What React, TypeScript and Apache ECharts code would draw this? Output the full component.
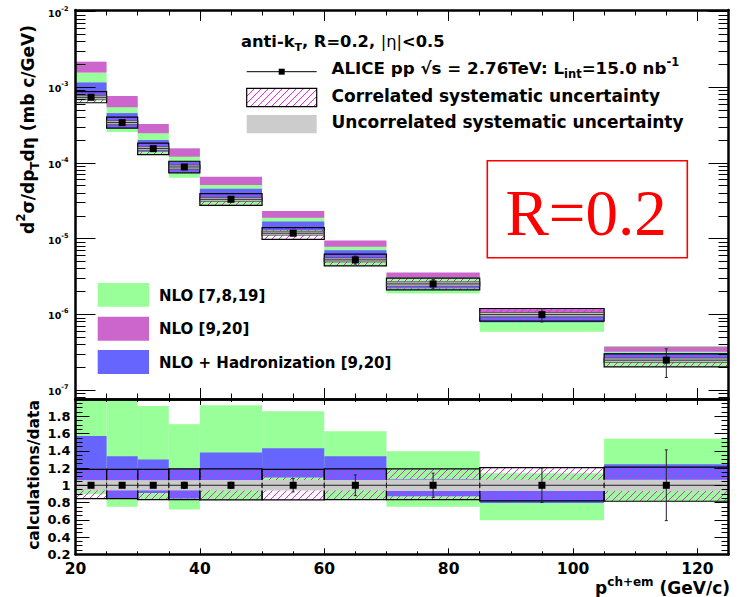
import React, { useEffect, useRef } from "react";
import * as echarts from "echarts";

// ---------------- data ----------------
const binLow = [20, 25, 30, 35, 40, 50, 60, 70, 85, 105];
const binHigh = [25, 30, 35, 40, 50, 60, 70, 85, 105, 125];
const binCenter = [22.5, 27.5, 32.5, 37.5, 45, 55, 65, 77.5, 95, 115];
// ALICE data, d2sigma/dpTdeta (mb c/GeV)
const crossSection = [7.38e-4, 3.41e-4, 1.545e-4, 8.85e-5, 3.31e-5, 1.18e-5, 5.24e-6, 2.52e-6, 9.9e-7, 2.48e-7];
const statErrRel = [0.02, 0.02, 0.02, 0.035, 0.035, 0.077, 0.12, 0.14, 0.2, 0.41];
// correlated systematic box (relative to data)
const corrSysLow = [0.846, 0.846, 0.834, 0.834, 0.83, 0.83, 0.834, 0.834, 0.82, 0.815];
const corrSysHigh = [1.185, 1.185, 1.185, 1.19, 1.19, 1.185, 1.19, 1.19, 1.205, 1.21];
// uncorrelated systematic band (relative half-width)
const uncorrSysRel = [0.06, 0.06, 0.06, 0.06, 0.06, 0.06, 0.06, 0.065, 0.065, 0.065];
// NLO [7,8,19] calculations/data band
const nloRatioLow = [0.896, 0.75, 0.83, 0.72, 0.83, 1.02, 0.83, 0.75, 0.594, 0.815];
const nloRatioHigh = [2.1, 2.05, 1.92, 1.707, 1.927, 1.857, 1.626, 1.394, 1.14, 1.54];
// NLO + Hadronization [9,20] calculations/data band
const nloHadRatioLow = [0.97, 0.846, 0.91, 0.846, 0.98, 1.09, 0.98, 0.873, 0.795, 1.0];
const nloHadRatioHigh = [1.57, 1.336, 1.3, 1.19, 1.38, 1.43, 1.336, 1.07, 0.97, 1.243];
// NLO [9,20] cross section band (mb c/GeV)
const nlo920Low = [1.56e-3, 5.45e-4, 2.47e-4, 1.21e-4, 5.12e-5, 1.89e-5, 7.84e-6, 3.05e-6, 1.05e-6, 3.21e-7];
const nlo920High = [2.18e-3, 7.67e-4, 3.27e-4, 1.56e-4, 6.59e-5, 2.32e-5, 9.42e-6, 3.56e-6, 1.2e-6, 3.74e-7];

// tick values
const xMajorTicks = [20, 40, 60, 80, 100, 120];
const xMinorTicks = [25, 30, 35, 45, 50, 55, 65, 70, 75, 85, 90, 95, 105, 110, 115];
const logMajorTicks = [-7, -6, -5, -4, -3, -2];
const ratioMajorTicks = [0.2, 0.4, 0.6, 0.8, 1.0, 1.2, 1.4, 1.6, 1.8];

// ---------------- styles ----------------
const FONT = "DejaVu Sans";
const GREEN = "#99ff99";
const MAGENTA = "#cc66cc";
const BLUE = "#6666ff";
const GRAY = "#cccccc";
const HATCH = "#ee22ee";
const RED = "#ff0000";
const Y_LOG_MIN = -7.119;
const Y_LOG_MAX = -1.979;

const logMinorTicks: number[] = [];
for (let n = -8; n <= -2; n++) {
  for (let k = 2; k <= 9; k++) {
    const v = n + Math.log10(k);
    if (v > Y_LOG_MIN && v < Y_LOG_MAX) logMinorTicks.push(v);
  }
}
const ratioMinorTicks: number[] = [];
for (let i = 5; i < 40; i++) {
  if (i % 4 !== 0) ratioMinorTicks.push(Math.round(i * 5) / 100);
}

const hatchLines = (x0: number, y0: number, x1: number, y1: number, step = 7) => {
  const out: any[] = [];
  const cStart = Math.ceil((x0 + y0) / step) * step;
  for (let c = cStart; c <= x1 + y1; c += step) {
    const xa = Math.max(x0, c - y1);
    const xb = Math.min(x1, c - y0);
    if (xb - xa > 0.4) {
      out.push({
        type: "line",
        silent: true,
        shape: { x1: xa, y1: c - xa, x2: xb, y2: c - xb },
        style: { stroke: HATCH, lineWidth: 1 },
      });
    }
  }
  return out;
};

const bandRender = (fill: string, stroke?: string) => (params: any, api: any) => {
  const a = api.coord([api.value(0), api.value(3)]);
  const b = api.coord([api.value(1), api.value(2)]);
  const cs = params.coordSys;
  const shape = echarts.graphic.clipRectByRect(
    { x: a[0], y: a[1], width: b[0] - a[0], height: b[1] - a[1] },
    { x: cs.x, y: cs.y, width: cs.width, height: cs.height }
  );
  if (!shape) return null;
  return {
    type: "rect",
    silent: true,
    shape,
    style: stroke ? { fill, stroke, lineWidth: 0.8 } : { fill },
  };
};

const hatchRender = (params: any, api: any) => {
  const a = api.coord([api.value(0), api.value(3)]);
  const b = api.coord([api.value(1), api.value(2)]);
  const children = hatchLines(a[0], a[1], b[0], b[1]);
  children.push({
    type: "rect",
    silent: true,
    shape: { x: a[0], y: a[1], width: b[0] - a[0], height: b[1] - a[1] },
    style: { fill: "none", stroke: "#000", lineWidth: 1.2 },
  });
  return { type: "group", children };
};

const pointRender = (params: any, api: any) => {
  const x0 = api.value(0), x1 = api.value(1), xc = api.value(2);
  const y = api.value(3), ylo = api.value(4), yhi = api.value(5);
  const pL = api.coord([x0, y]);
  const pR = api.coord([x1, y]);
  const pC = api.coord([xc, y]);
  const pLo = api.coord([xc, ylo]);
  const pHi = api.coord([xc, yhi]);
  const st = { stroke: "#222", lineWidth: 1 };
  const m = 7;
  return {
    type: "group",
    children: [
      { type: "line", silent: true, shape: { x1: pL[0], y1: pL[1], x2: pR[0], y2: pR[1] }, style: st },
      { type: "line", silent: true, shape: { x1: pL[0], y1: pL[1] - 2.5, x2: pL[0], y2: pL[1] + 2.5 }, style: st },
      { type: "line", silent: true, shape: { x1: pR[0], y1: pR[1] - 2.5, x2: pR[0], y2: pR[1] + 2.5 }, style: st },
      { type: "line", silent: true, shape: { x1: pLo[0], y1: pLo[1], x2: pHi[0], y2: pHi[1] }, style: st },
      { type: "line", silent: true, shape: { x1: pLo[0] - 1.5, y1: pLo[1], x2: pLo[0] + 1.5, y2: pLo[1] }, style: st },
      { type: "line", silent: true, shape: { x1: pHi[0] - 1.5, y1: pHi[1], x2: pHi[0] + 1.5, y2: pHi[1] }, style: st },
      { type: "rect", silent: true, shape: { x: pC[0] - m / 2, y: pC[1] - m / 2, width: m, height: m }, style: { fill: "#000" } },
    ],
  };
};

const FRAME = { color: "#000", width: 2.5 };
const TICK = { color: "#000", width: 1 };

function xAx(grid: number, pos: string, ticks: number[], len: number, line: boolean, labels?: number[]) {
  return {
    type: "value",
    gridIndex: grid,
    position: pos,
    min: 20,
    max: 125,
    z: 10,
    axisLine: { show: line, onZero: false, lineStyle: FRAME },
    axisTick: { show: true, inside: true, length: len, customValues: ticks, lineStyle: TICK },
    axisLabel: labels
      ? {
          show: true,
          customValues: labels,
          margin: 7,
          fontFamily: FONT,
          fontWeight: "bold",
          fontSize: 15.5,
          color: "#000",
        }
      : { show: false },
    splitLine: { show: false },
  };
}

function yAx(grid: number, pos: string, min: number, max: number, ticks: number[], len: number, line: boolean, label?: any) {
  return {
    type: "value",
    gridIndex: grid,
    position: pos,
    min,
    max,
    z: 10,
    axisLine: { show: line, onZero: false, lineStyle: FRAME },
    axisTick: { show: true, inside: true, length: len, customValues: ticks, lineStyle: TICK },
    axisLabel: label ? label : { show: false },
    splitLine: { show: false },
  };
}

const log10 = (v: number) => Math.log10(v);

function buildOption() {
  const topBand = (lo: number[], hi: number[], rel: boolean) =>
    binLow.map((b, i) => [
      b,
      binHigh[i],
      log10(rel ? lo[i] * crossSection[i] : lo[i]),
      log10(rel ? hi[i] * crossSection[i] : hi[i]),
    ]);
  const ratioBand = (lo: number[], hi: number[]) => binLow.map((b, i) => [b, binHigh[i], lo[i], hi[i]]);

  const topGreen = topBand(nloRatioLow, nloRatioHigh, true);
  const topMagenta = topBand(nlo920Low, nlo920High, false);
  const topBlue = topBand(nloHadRatioLow, nloHadRatioHigh, true);
  const topCorr = topBand(corrSysLow, corrSysHigh, true);
  const topUncorr = topBand(
    uncorrSysRel.map((u) => 1 - u),
    uncorrSysRel.map((u) => 1 + u),
    true
  );
  const topPoints = binLow.map((b, i) => [
    b,
    binHigh[i],
    binCenter[i],
    log10(crossSection[i]),
    log10(crossSection[i] * (1 - statErrRel[i])),
    log10(crossSection[i] * (1 + statErrRel[i])),
  ]);

  const rGreen = ratioBand(nloRatioLow, nloRatioHigh);
  const rBlue = ratioBand(nloHadRatioLow, nloHadRatioHigh);
  const rCorr = ratioBand(corrSysLow, corrSysHigh);
  const rUncorr = ratioBand(
    uncorrSysRel.map((u) => 1 - u),
    uncorrSysRel.map((u) => 1 + u)
  );
  const rPoints = binLow.map((b, i) => [b, binHigh[i], binCenter[i], 1, 1 - statErrRel[i], 1 + statErrRel[i]]);

  const cust = (name: string, xi: number, yi: number, data: any[], render: any, z: number) => ({
    type: "custom",
    name,
    xAxisIndex: xi,
    yAxisIndex: yi,
    data,
    renderItem: render,
    silent: true,
    z,
  });

  const supRich = {
    b: { fontFamily: FONT, fontWeight: "bold", fontSize: 9.5, color: "#000", lineHeight: 13, verticalAlign: "bottom" },
    s: { fontFamily: FONT, fontWeight: "bold", fontSize: 6.5, color: "#000", lineHeight: 13, verticalAlign: "top" },
  };

  const txt = (x: number, y: number, text: string, size: number, extra: any = {}) => ({
    type: "text",
    x,
    y,
    silent: true,
    z: 20,
    ...extra,
    style: {
      text,
      fontFamily: FONT,
      fontWeight: "bold",
      fontSize: size,
      fill: "#000",
      align: "left",
      verticalAlign: "middle",
      ...(extra.style || {}),
    },
  });

  const richFor = (size: number, small: number, lh: number) => ({
    n: { fontFamily: FONT, fontWeight: "bold", fontSize: size, lineHeight: lh, verticalAlign: "middle" },
    sup: { fontFamily: FONT, fontWeight: "bold", fontSize: small, lineHeight: lh, verticalAlign: "top" },
    sub: { fontFamily: FONT, fontWeight: "bold", fontSize: small, lineHeight: lh, verticalAlign: "bottom" },
    th: { fontFamily: FONT, fontWeight: "normal", fontSize: size, lineHeight: lh, verticalAlign: "middle" },
  });

  const legBoxX = 246.7;
  const legBoxW = 70;

  const graphic: any[] = [
    // y titles
    txt(28, 234, "{n|d}{sup|2}{n|σ/dp}{sub|T}{n|dη (mb c/GeV)}", 17, {
      rotation: Math.PI / 2,
      style: { align: "left", rich: richFor(17, 12, 26) },
    }),
    txt(33.5, 475, "calculations/data", 15.5, { rotation: Math.PI / 2, style: { align: "center" } }),
    // x title
    txt(730, 588, "{n|p}{sup|ch+em}{n| (GeV/c)}", 17, { style: { align: "right", rich: richFor(17, 12, 24) } }),
    // top-right legend
    txt(241, 41.5, "{n|anti-k}{sub|T}{n|, R=0.2, }{th||η|}{n|<0.5}", 16.3, { style: { rich: richFor(16.3, 11, 22) } }),
    {
      type: "line",
      silent: true,
      z: 20,
      shape: { x1: legBoxX, y1: 71.7, x2: legBoxX + legBoxW, y2: 71.7 },
      style: { stroke: "#000", lineWidth: 1 },
    },
    {
      type: "rect",
      silent: true,
      z: 20,
      shape: { x: legBoxX + legBoxW / 2 - 3, y: 71.7 - 3, width: 6, height: 6 },
      style: { fill: "#000" },
    },
    txt(331.5, 68.3, "{n|ALICE pp √s = 2.76TeV: L}{sub|int}{n|=15.0 nb}{sup|-1}", 16.7, {
      style: { rich: richFor(16.7, 11.5, 24) },
    }),
    {
      type: "group",
      z: 20,
      silent: true,
      children: [
        ...hatchLines(legBoxX, 88.3, legBoxX + legBoxW, 106.7),
        {
          type: "rect",
          silent: true,
          shape: { x: legBoxX, y: 88.3, width: legBoxW, height: 18.4 },
          style: { fill: "none", stroke: "#000", lineWidth: 1.2 },
        },
      ],
    },
    txt(331.5, 96.3, "Correlated systematic uncertainty", 17),
    {
      type: "rect",
      silent: true,
      z: 20,
      shape: { x: legBoxX, y: 115, width: legBoxW, height: 18.3 },
      style: { fill: GRAY },
    },
    txt(331.5, 122.2, "Uncorrelated systematic uncertainty", 17),
    // R=0.2 box
    {
      type: "rect",
      silent: true,
      z: 20,
      shape: { x: 487.3, y: 160.7, width: 200, height: 97 },
      style: { fill: "#fff", stroke: RED, lineWidth: 1.6 },
    },
    {
      type: "text",
      silent: true,
      z: 21,
      x: 586,
      y: 213,
      style: {
        text: "R=0.2",
        fontFamily: "Liberation Serif",
        fontSize: 65,
        fill: RED,
        align: "center",
        verticalAlign: "middle",
      },
    },
    // lower-left legend
    { type: "rect", silent: true, z: 20, shape: { x: 97.7, y: 283, width: 51.3, height: 23.7 }, style: { fill: GREEN } },
    txt(159, 296, "NLO [7,8,19]", 15),
    { type: "rect", silent: true, z: 20, shape: { x: 97.7, y: 316.7, width: 51.3, height: 24 }, style: { fill: MAGENTA } },
    txt(159, 329, "NLO [9,20]", 15),
    { type: "rect", silent: true, z: 20, shape: { x: 97.7, y: 350, width: 51.3, height: 24 }, style: { fill: BLUE } },
    txt(159, 362.5, "NLO + Hadronization [9,20]", 15),
  ];

  return {
    animation: false,
    backgroundColor: "#fff",
    grid: [
      { left: 75.5, top: 10, width: 653, height: 389, containLabel: false, outerBoundsMode: "none" },
      { left: 75.5, top: 399, width: 653, height: 155.3, containLabel: false, outerBoundsMode: "none" },
    ],
    xAxis: [
      xAx(0, "bottom", xMajorTicks, 11, true),
      xAx(0, "bottom", xMinorTicks, 5.5, false),
      xAx(0, "top", xMajorTicks, 11, true),
      xAx(0, "top", xMinorTicks, 5.5, false),
      xAx(1, "bottom", xMajorTicks, 6, true, xMajorTicks),
      xAx(1, "bottom", xMinorTicks, 3, false),
      xAx(1, "top", xMajorTicks, 6, true),
      xAx(1, "top", xMinorTicks, 3, false),
    ],
    yAxis: [
      yAx(0, "left", Y_LOG_MIN, Y_LOG_MAX, logMajorTicks, 20, true, {
        show: true,
        customValues: logMajorTicks,
        margin: 7,
        formatter: (v: number) => `{b|10}{s|${Math.round(v)}}`,
        rich: supRich,
      }),
      yAx(0, "left", Y_LOG_MIN, Y_LOG_MAX, logMinorTicks, 10, false),
      yAx(0, "right", Y_LOG_MIN, Y_LOG_MAX, logMajorTicks, 20, true),
      yAx(0, "right", Y_LOG_MIN, Y_LOG_MAX, logMinorTicks, 10, false),
      yAx(1, "left", 0.2, 2.0, ratioMajorTicks, 14, true, {
        show: true,
        customValues: ratioMajorTicks,
        margin: 5,
        fontFamily: FONT,
        fontWeight: "bold",
        fontSize: 13,
        color: "#000",
        formatter: (v: number) => (Math.abs(v - 1) < 1e-6 ? "1" : v.toFixed(1)),
      }),
      yAx(1, "left", 0.2, 2.0, ratioMinorTicks, 7, false),
      yAx(1, "right", 0.2, 2.0, ratioMajorTicks, 14, true),
      yAx(1, "right", 0.2, 2.0, ratioMinorTicks, 7, false),
    ],
    series: [
      cust("NLO [7,8,19]", 0, 0, topGreen, bandRender(GREEN), 2),
      cust("NLO [9,20]", 0, 0, topMagenta, bandRender(MAGENTA), 3),
      cust("NLO + Hadronization [9,20]", 0, 0, topBlue, bandRender(BLUE), 4),
      cust("Correlated systematic uncertainty", 0, 0, topCorr, hatchRender, 5),
      cust("Uncorrelated systematic uncertainty", 0, 0, topUncorr, bandRender(GRAY, "#444"), 6),
      cust("ALICE pp", 0, 0, topPoints, pointRender, 7),
      cust("NLO [7,8,19] ratio", 4, 4, rGreen, bandRender(GREEN), 2),
      cust("NLO + Hadronization ratio", 4, 4, rBlue, bandRender(BLUE), 4),
      cust("Correlated ratio", 4, 4, rCorr, hatchRender, 5),
      cust("Uncorrelated ratio", 4, 4, rUncorr, bandRender(GRAY), 6),
      cust("ALICE ratio", 4, 4, rPoints, pointRender, 7),
    ],
    graphic,
  };
}

export default function App() {
  const ref = useRef<HTMLDivElement>(null);
  useEffect(() => {
    if (!ref.current) return;
    const chart = echarts.init(ref.current, undefined, { renderer: "svg" });
    chart.setOption(buildOption() as any);
    return () => chart.dispose();
  }, []);
  return (
    <div
      ref={ref}
      style={{ position: "fixed", left: 0, top: 0, width: 740, height: 597, background: "#fff" }}
    />
  );
}
